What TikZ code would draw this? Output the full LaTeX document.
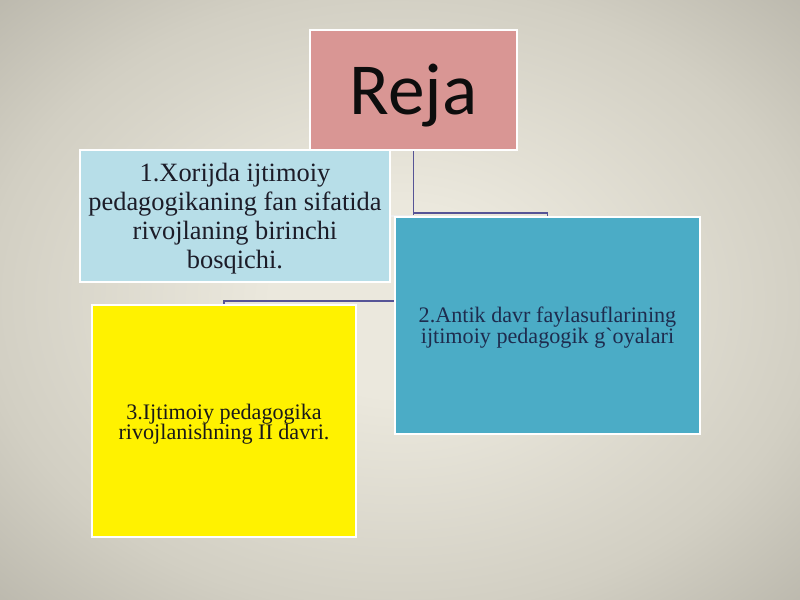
\documentclass[tikz,border=0pt]{standalone}
\usepackage{fontspec}
\setmainfont{Liberation Serif}
\newfontfamily\rejafont{Carlito}
\newfontfamily\rawserif[Ligatures=ResetAll]{Liberation Serif}
\usetikzlibrary{calc}

\definecolor{bgin}{RGB}{235,232,221}
\definecolor{bgmid}{RGB}{210,207,195}
\definecolor{bgout}{RGB}{178,175,164}
\definecolor{rejapink}{RGB}{217,150,148}
\definecolor{paleblue}{RGB}{183,222,232}
\definecolor{seablue}{RGB}{75,172,198}
\definecolor{wireblue}{RGB}{86,84,150}
\definecolor{inkdark}{RGB}{28,28,40}
\definecolor{inknavy}{RGB}{30,44,78}

\pgfdeclarelayer{bg}
\pgfdeclarelayer{wires}
\pgfsetlayers{bg,wires,main}
\pgfdeclareradialshading{slidebg}{\pgfpoint{0bp}{0bp}}{color(0bp)=(bgin); color(8bp)=(bgin); color(26bp)=(bgmid); color(40bp)=(bgout); color(50bp)=(bgout)}

\begin{document}
\begin{tikzpicture}[x=0.75pt,y=0.75pt,yscale=-1,xscale=1]
\tikzset{plan/.style={draw=white,line width=1.1pt,inner sep=0pt},
  plantext/.style={inner sep=0pt,align=center},
  wire/.style={draw=wireblue,line width=1.3pt}}
\useasboundingbox (0,0) rectangle (800,600);
\begin{pgfonlayer}{bg}
\shade[shading=slidebg] (0,0) rectangle (800,600);
\end{pgfonlayer}
% boxes
\node[plan,fill=rejapink,minimum width=155.25pt,minimum height=90pt] (reja) at (413.5,90) {};
\node[plan,fill=paleblue,minimum width=232.5pt,minimum height=99pt] (xorij) at (235,216) {};
\node[plan,fill=seablue,minimum width=228.75pt,minimum height=162.75pt] (antik) at (547.5,325.5) {};
\node[plan,fill=yellow,minimum width=198pt,minimum height=174pt] (davr) at (224,421) {};
% texts
\node[plantext,text=black!90!gray,font=\rejafont\fontsize{55}{60}\selectfont] (rejatext) at ($(reja.center)+(0,5.5)$) {Reja};
\node[plantext,text=inkdark,font=\fontsize{19.8}{21.75}\selectfont] (xorijtext) at ($(xorij.center)+(0,3)$) {1.Xorijda ijtimoiy\\pedagogikaning fan sifatida\\rivojlaning birinchi\\bosqichi.};
\node[plantext,text=inknavy,font=\fontsize{16.6}{15.3}\selectfont] (antiktext) at ($(antik.center)+(0,2)$) {2.Antik davr faylasuflarining\\ijtimoiy pedagogik g{\rawserif`}oyalari};
\node[plantext,text=black!90,font=\fontsize{16.6}{15.2}\selectfont] (davrtext) at ($(davr.center)+(0,3.2)$) {3.Ijtimoiy pedagogika\\rivojlanishning II davri.};
% connectors
\begin{pgfonlayer}{wires}
\draw[wire] (reja.south) -- ($(reja.south)+(0,150)$) -| (davr.north);
\draw[wire] ($(reja.south)+(0,62)$) -| (antik.north);
\draw[white!85!gray,line width=0.8pt] (xorij.east) -- (xorij.east -| reja.south);
\end{pgfonlayer}
\end{tikzpicture}
\end{document}
